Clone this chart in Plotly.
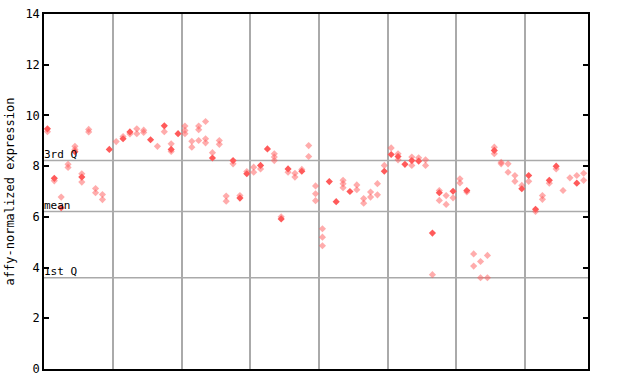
import plotly.graph_objects as go

# sample (column) index and expression values
solid_col = [1, 2, 3, 5, 6, 10, 12, 13, 16, 18, 19, 20, 25, 28, 29, 30, 32, 33, 35, 36, 38,
             42, 43, 45, 50, 51, 52, 53, 54, 55, 57, 58, 60, 62, 66, 70, 71, 72, 74, 75, 78]
solid_val = [9.47, 7.52, 6.36, 8.57, 7.57, 8.66, 9.08, 9.35, 9.04, 9.59, 8.66, 9.28, 8.32, 8.22, 6.74,
             7.70, 8.03, 8.68, 5.92, 7.89, 7.80,
             7.39, 6.60, 7.00, 7.80, 8.46, 8.38, 8.07, 8.22, 8.20, 5.36, 6.95, 7.01, 7.04, 8.62,
             7.11, 7.63, 6.30, 7.44, 8.00, 7.33]

hatch_col = [1, 2, 3, 4, 4, 5, 5, 6, 6, 7, 7, 8, 8, 9, 9,
             11, 12, 13, 14, 14, 15, 15, 17, 18, 19, 19,
             21, 21, 21, 22, 22, 23, 23, 23, 24, 24, 24, 25, 26, 26, 27, 27, 28, 29, 30,
             31, 31, 32, 34, 34, 34, 35, 36, 37, 37, 38, 39, 39, 40, 40, 40,
             41, 41, 41, 44, 44, 44, 46, 46, 47, 47, 48, 48, 49, 49, 50, 51, 52, 52,
             54, 54, 55, 56, 56, 57, 58, 58, 59, 59, 60, 61, 61, 62, 63, 63, 64, 64, 65, 65,
             66, 66, 67, 67, 68, 68, 69, 69, 70, 71, 72, 73, 73, 74, 75, 76, 77, 78, 79, 79]
hatch_val = [9.36, 7.42, 6.78, 8.07, 7.95, 8.78, 8.66, 7.70, 7.37, 9.45, 9.35, 7.12, 6.95, 6.88, 6.68,
             8.97, 9.17, 9.27, 9.47, 9.28, 9.42, 9.33, 8.78, 9.36, 8.88, 8.58,
             9.58, 9.41, 9.28, 8.98, 8.75, 9.58, 9.44, 9.01, 9.76, 9.08, 8.92, 8.53, 9.01, 8.86,
             6.82, 6.62, 8.09, 6.84, 7.79,
             7.96, 7.76, 7.89, 8.49, 8.36, 8.22, 6.00, 7.76, 7.72, 7.57, 7.87, 8.81, 8.38,
             7.22, 6.91, 6.64,
             5.53, 5.20, 4.86, 7.44, 7.31, 7.15, 7.26, 7.07, 6.72, 6.54, 6.98, 6.78, 7.31, 6.87,
             8.03, 8.72, 8.49, 8.25,
             8.36, 8.03, 8.33, 8.25, 8.03, 3.72, 7.04, 6.65, 6.84, 6.49, 6.75, 7.50, 7.34, 6.98,
             4.54, 4.06, 4.24, 3.60, 4.48, 3.60,
             8.75, 8.49, 8.15, 8.09, 8.09, 7.76, 7.63, 7.40, 7.24, 7.40, 6.21, 6.84, 6.69, 7.33,
             7.89, 7.04, 7.54, 7.63, 7.72, 7.44]

n_samples = 79
group_bounds = [10.5, 20.5, 30.5, 40.5, 50.5, 60.5, 70.5]
q1_val = 3.60
mean_val = 6.21
q3_val = 8.22
y_ticks = [0, 2, 4, 6, 8, 10, 12, 14]

font_mono = "DejaVu Sans Mono"

fig = go.Figure()
fig.add_trace(go.Scatter(
    x=hatch_col, y=hatch_val, mode="markers",
    marker=dict(symbol="diamond", size=5.5, color="rgba(255,90,90,0.5)", line=dict(width=0)),
    hoverinfo="x+y", showlegend=False))
fig.add_trace(go.Scatter(
    x=solid_col, y=solid_val, mode="markers",
    marker=dict(symbol="diamond", size=5.5, color="#ff5a5a", line=dict(width=0)),
    hoverinfo="x+y", showlegend=False))

for val in (q3_val, mean_val, q1_val):
    fig.add_hline(y=val, line=dict(color="#aaaaaa", width=1.5), layer="below")

for txt, val in (("3rd Q", q3_val), ("mean", mean_val), ("1st Q", q1_val)):
    fig.add_annotation(x=0, xref="paper", y=val, yref="y", text=txt, showarrow=False,
                       xanchor="left", yanchor="bottom", borderpad=0, xshift=-1, yshift=-1,
                       font=dict(family=font_mono, size=11, color="black"))

fig.update_layout(
    width=640, height=384,
    margin=dict(l=44, r=52, t=14, b=15, autoexpand=False),
    paper_bgcolor="white", plot_bgcolor="white",
    font=dict(family=font_mono, size=12, color="black"),
    xaxis=dict(range=[0.5, n_samples + 0.63], tickvals=group_bounds, showticklabels=False,
               ticks="", showgrid=True, gridcolor="#aaaaaa", gridwidth=1.5, zeroline=False,
               showline=True, linecolor="black", linewidth=1.5, mirror=True, automargin=False),
    yaxis=dict(range=[0, 14], tickvals=y_ticks, ticks="inside", ticklen=5, tickcolor="black",
               tickwidth=1.5, showgrid=False, zeroline=False, showline=True, linecolor="black",
               linewidth=1.5, mirror="ticks", automargin=False,
               title=dict(text="affy-normalized expression", standoff=8,
                          font=dict(family=font_mono, size=12))),
)

fig.write_html("out.html", config={"displayModeBar": False},
               post_script="document.body.style.margin='0';")
